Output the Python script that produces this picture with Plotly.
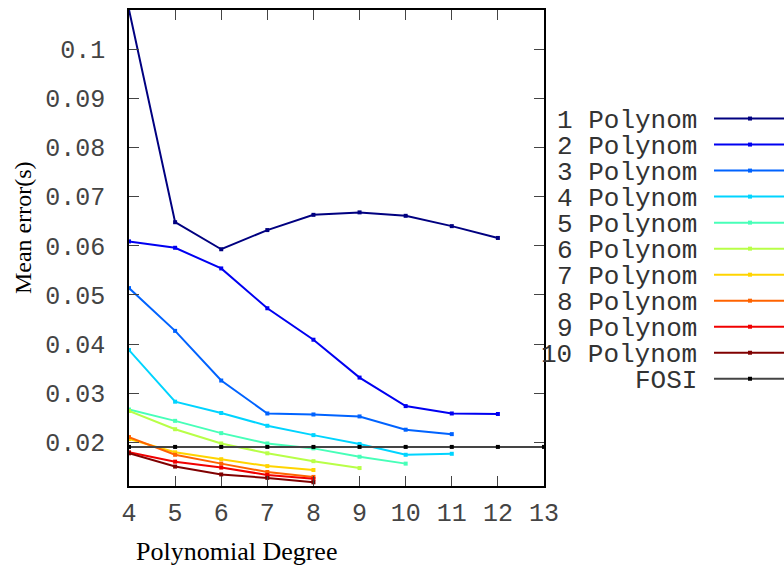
import plotly.graph_objects as go

# ---------------- data ----------------
degrees = [4, 5, 6, 7, 8, 9, 10, 11, 12, 13]
series_names = ["1 Polynom", "2 Polynom", "3 Polynom", "4 Polynom", "5 Polynom",
                "6 Polynom", "7 Polynom", "8 Polynom", "9 Polynom", "10 Polynom", "FOSI"]
poly1 = [0.1080, 0.0648, 0.0593, 0.0632, 0.0663, 0.0668, 0.0661, 0.0640, 0.0616]
poly2 = [0.0609, 0.0596, 0.0554, 0.0473, 0.0409, 0.0332, 0.0274, 0.0259, 0.0258]
poly3 = [0.0514, 0.0427, 0.0326, 0.0259, 0.0257, 0.0253, 0.0226, 0.0217]
poly4 = [0.0388, 0.0283, 0.0260, 0.0234, 0.0215, 0.0197, 0.0175, 0.0177]
poly5 = [0.0267, 0.0244, 0.0219, 0.0198, 0.0188, 0.0171, 0.0157]
poly6 = [0.0264, 0.0227, 0.0198, 0.0178, 0.0162, 0.0148]
poly7 = [0.0207, 0.0180, 0.0166, 0.0152, 0.0144]
poly8 = [0.0211, 0.0175, 0.0157, 0.0140, 0.0130]
poly9 = [0.0180, 0.0161, 0.0149, 0.0134, 0.0126]
poly10 = [0.0178, 0.0151, 0.0135, 0.0128, 0.0119]
fosi = [0.0191, 0.0191, 0.0191, 0.0191, 0.0191, 0.0191, 0.0191, 0.0191, 0.0191, 0.0191]
y_tick_vals = [0.02, 0.03, 0.04, 0.05, 0.06, 0.07, 0.08, 0.09, 0.1]
y_tick_text = ["0.02", "0.03", "0.04", "0.05", "0.06", "0.07", "0.08", "0.09", "0.1"]
x_tick_vals = [4, 5, 6, 7, 8, 9, 10, 11, 12, 13]

all_series = [poly1, poly2, poly3, poly4, poly5, poly6, poly7, poly8, poly9, poly10, fosi]
colors = ["#000080", "#0000f1", "#0063ff", "#00d4ff", "#47ffb8", "#b8ff47",
          "#ffd400", "#ff6300", "#f10000", "#800000", "#444444"]
marker_colors = colors[:-1] + ["#000000"]

# ---------------- layout constants (pixels) ----------------
W, H = 784, 570
L, R, T, B = 129, 240, 8, 84
PW = W - L - R
PH = H - T - B


def px_x(px):
    return (px - L) / PW


def px_y(py):
    return (H - B - py) / PH


mono = "Liberation Mono, Courier New, monospace"
serif = "Liberation Serif, Times New Roman, serif"

fig = go.Figure()
for name, vals, c, mc in zip(series_names, all_series, colors, marker_colors):
    fig.add_trace(go.Scatter(
        x=degrees[:len(vals)], y=vals, mode="lines+markers", name=name,
        line=dict(color=c, width=2),
        marker=dict(symbol="square", size=4, color=mc),
        showlegend=False, cliponaxis=False,
    ))

annotations = [
    dict(text="Polynomial Degree", xref="paper", yref="paper",
         x=px_x(236), y=px_y(552), xanchor="center", yanchor="middle",
         showarrow=False, font=dict(family=serif, size=26, color="#000")),
    dict(text="Mean error(s)", xref="paper", yref="paper", textangle=-90,
         x=px_x(23), y=px_y(227), xanchor="center", yanchor="middle",
         showarrow=False, font=dict(family=serif, size=24, color="#000")),
]
shapes = []
row0, step = 117, 26.13
for i, (name, c, mc) in enumerate(zip(series_names, colors, marker_colors)):
    yl = row0 + i * step
    annotations.append(dict(
        text=name, xref="paper", yref="paper", x=px_x(699), y=px_y(yl + 2),
        xanchor="right", yanchor="middle", showarrow=False,
        font=dict(family=mono, size=26, color="#333")))
    shapes.append(dict(type="line", xref="paper", yref="paper",
                       x0=px_x(714), x1=px_x(790), y0=px_y(yl), y1=px_y(yl),
                       line=dict(color=c, width=2)))
    shapes.append(dict(type="rect", xref="paper", yref="paper",
                       x0=px_x(748), x1=px_x(752), y0=px_y(yl - 2), y1=px_y(yl + 2),
                       line=dict(width=0), fillcolor=mc))

fig.update_layout(
    width=W, height=H,
    margin=dict(l=L, r=R, t=T, b=B),
    paper_bgcolor="white", plot_bgcolor="white",
    annotations=annotations, shapes=shapes,
    showlegend=False,
)
fig.update_xaxes(
    range=[4, 13], tickvals=x_tick_vals, ticks="inside", ticklen=10,
    tickcolor="#444", tickwidth=1, showline=True, linecolor="#000", linewidth=1.5,
    mirror="ticks", showgrid=False, zeroline=False, ticklabelstandoff=3,
    tickfont=dict(family=mono, size=25, color="#444"),
)
fig.update_yaxes(
    range=[0.01115, 0.10796], tickvals=y_tick_vals, ticktext=y_tick_text,
    ticks="inside", ticklen=10, tickcolor="#444", tickwidth=1,
    showline=True, linecolor="#000", linewidth=1.5, mirror="ticks",
    showgrid=False, zeroline=False, ticklabelstandoff=17,
    tickfont=dict(family=mono, size=25, color="#444"),
)

fig.write_html("out.html", config={"displayModeBar": False},
               post_script="document.body.style.margin='0';")
